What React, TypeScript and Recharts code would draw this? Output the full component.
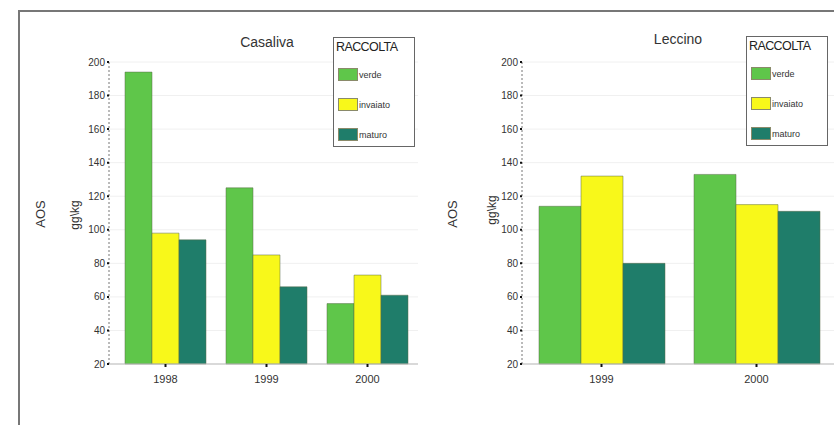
import { BarChart, Bar, XAxis, YAxis, CartesianGrid } from "recharts";

// Casaliva
const casalivaYears = ["1998", "1999", "2000"];
const casalivaVerde = [194, 125, 56];
const casalivaInvaiato = [98, 85, 73];
const casalivaMaturo = [94, 66, 61];

// Leccino
const leccinoYears = ["1999", "2000"];
const leccinoVerde = [114, 133];
const leccinoInvaiato = [132, 115];
const leccinoMaturo = [80, 111];

const yTicks = [20, 40, 60, 80, 100, 120, 140, 160, 180, 200];
const legendTitle = "RACCOLTA";
const seriesNames = ["verde", "invaiato", "maturo"];

const COLORS: Record<string, string> = {
  verde: "#5fc64a",
  invaiato: "#f8f81a",
  maturo: "#1f7d6a",
};

const font = "Arial, 'Liberation Sans', Helvetica, sans-serif";

const buildRows = (years: string[], v: number[], i: number[], m: number[]) =>
  years.map((y, k) => ({ year: y, verde: v[k], invaiato: i[k], maturo: m[k] }));

const casalivaData = buildRows(casalivaYears, casalivaVerde, casalivaInvaiato, casalivaMaturo);
const leccinoData = buildRows(leccinoYears, leccinoVerde, leccinoInvaiato, leccinoMaturo);

// legend drawn as plain html so it doesn't eat chart space
const LegendBox = ({ left, top }: { left: number; top: number }) => (
  <div
    style={{
      position: "absolute",
      left,
      top,
      border: "1px solid #666",
      background: "#fff",
      width: 82,
      height: 110,
      boxSizing: "border-box",
      fontFamily: font,
      padding: "2px 2px",
    }}
  >
    <div style={{ fontSize: 12.5, color: "#222", letterSpacing: -0.6 }}>{legendTitle}</div>
    {seriesNames.map((name, idx) => (
      <div
        key={name}
        style={{ display: "flex", alignItems: "center", marginTop: idx === 0 ? 14 : 17 }}
      >
        <div
          style={{
            width: 20,
            height: 13,
            marginLeft: 2,
            background: COLORS[name],
            border: "1px solid #8a8a6a",
            boxSizing: "border-box",
          }}
        />
        <span style={{ fontSize: 9, color: "#333", marginLeft: 1 }}>{name}</span>
      </div>
    ))}
  </div>
);

const tickStyle = { fontSize: 10, fill: "#333", fontFamily: font };

function Panel({
  data,
  width,
  marginLeft,
  marginRight,
  barSize,
  padLeft,
}: {
  data: any[];
  width: number;
  marginLeft: number;
  marginRight: number;
  barSize: number;
  padLeft: number;
}) {
  return (
    <BarChart
      width={width}
      height={425}
      data={data}
      barGap={0}
      barSize={barSize}
      margin={{ top: 62, right: marginRight, bottom: 31, left: marginLeft }}
    >
      <CartesianGrid vertical={false} stroke="#f0f0f0" />
      <XAxis
        dataKey="year"
        height={30}
        padding={{ left: padLeft, right: 0 }}
        axisLine={{ stroke: "#bbbbbb" }}
        tickLine={{ stroke: "#111", strokeWidth: 2 }}
        tickSize={3}
        tick={{ fontSize: 11, fill: "#333", fontFamily: font, dy: 6 }}
      />
      <YAxis
        width={40}
        domain={[20, 200]}
        ticks={yTicks}
        interval={0}
        axisLine={{ stroke: "#777", strokeDasharray: "2 2" }}
        tickLine={{ stroke: "#111", strokeWidth: 2 }}
        tickSize={2}
        tick={tickStyle}
      />
      {seriesNames.map((name) => (
        <Bar
          key={name}
          dataKey={name}
          name={name}
          fill={COLORS[name]}
          stroke="#5a6a4a"
          strokeWidth={0.5}
          isAnimationActive={false}
        />
      ))}
    </BarChart>
  );
}

const rotated = (text: string, x: number, y: number, size: number) => (
  <div
    style={{
      position: "absolute",
      left: x,
      top: y,
      transform: "translate(-50%, -50%) rotate(-90deg)",
      fontSize: size,
      fontFamily: font,
      color: "#333",
      whiteSpace: "nowrap",
    }}
  >
    {text}
  </div>
);

const title = (text: string, x: number, y: number) => (
  <div
    style={{
      position: "absolute",
      left: x,
      top: y,
      transform: "translate(-50%, -50%)",
      fontSize: 14,
      fontFamily: font,
      color: "#333",
    }}
  >
    {text}
  </div>
);

export default function App() {
  return (
    <div
      style={{
        position: "absolute",
        left: 0,
        top: 0,
        width: 834,
        height: 425,
        background: "#fff",
        overflow: "hidden",
      }}
    >
      <div
        style={{
          position: "absolute",
          left: 18,
          top: 10,
          width: 830,
          height: 430,
          borderTop: "2px solid #777",
          borderLeft: "2px solid #777",
        }}
      />
      <div style={{ position: "absolute", left: 0, top: 0 }}>
        <Panel data={casalivaData} width={420} marginLeft={69} marginRight={2} barSize={27} padLeft={6} />
      </div>
      <div style={{ position: "absolute", left: 420, top: 0 }}>
        <Panel data={leccinoData} width={414} marginLeft={62} marginRight={0} barSize={42} padLeft={2} />
      </div>
      <LegendBox left={333} top={37} />
      <LegendBox left={746} top={36} />
      {title("Casaliva", 267, 42)}
      {title("Leccino", 678, 39)}
      {rotated("AOS", 40, 214, 13)}
      {rotated("gg\\kg", 75, 215, 12)}
      {rotated("AOS", 452, 214, 13)}
      {rotated("gg\\kg", 492, 210, 12)}
    </div>
  );
}
